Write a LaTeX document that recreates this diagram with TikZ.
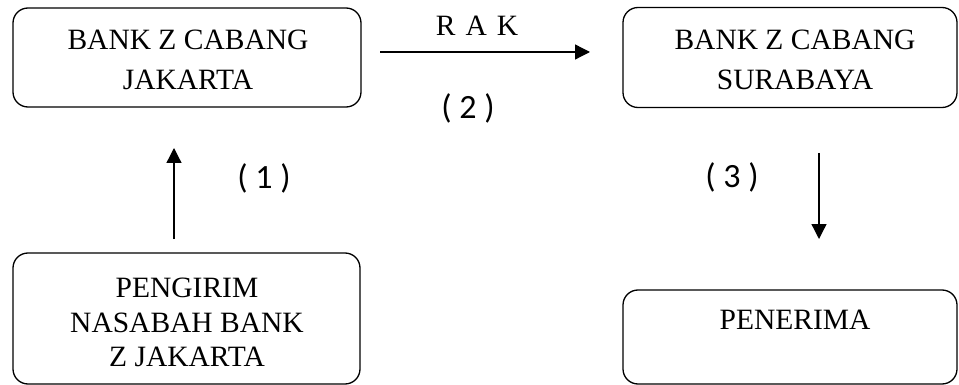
\documentclass[tikz,border=0pt]{standalone}
\usepackage{fontspec}
\setmainfont{Liberation Serif}
\newfontfamily\labelfont{Carlito}
\usetikzlibrary{arrows.meta}
\begin{document}
\begin{tikzpicture}[x=1pt,y=-1pt,
  box/.style={draw,line width=1.3pt,rounded corners=15pt,inner sep=0pt},
  boxtext/.style={align=center,inner sep=0pt,font=\fontsize{29.5}{40}\selectfont},
  numlabel/.style={inner sep=0pt,font=\labelfont\fontsize{34}{40}\selectfont},
  flow/.style={line width=1.3pt,-{Triangle[length=15pt,width=15pt]}}]
\useasboundingbox (0,0) rectangle (959,385);
% boxes
\node[box,minimum width=348pt,minimum height=99pt] (jkt) at (187,57.5) {};
\node[box,minimum width=334pt,minimum height=100pt] (sby) at (790,57.5) {};
\node[box,minimum width=347pt,minimum height=131pt] (pgr) at (186.5,318.5) {};
\node[box,minimum width=334pt,minimum height=94pt] (pnr) at (790,337) {};
% texts
\node[boxtext] (tjkt) at (188,60) {BANK Z CABANG\\JAKARTA};
\node[boxtext] (tsby) at (795,60) {BANK Z CABANG\\SURABAYA};
\node[boxtext,font=\fontsize{29.5}{34.5}\selectfont] (tpgr) at (187,322.5) {PENGIRIM\\NASABAH BANK\\Z JAKARTA};
\node[boxtext] (tpnr) at (795,319.5) {PENERIMA};
% connectors
\coordinate (a1s) at (174,239);
\coordinate (a1e) at (174,148);
\coordinate (a2s) at (380,52);
\coordinate (a2e) at (590,52);
\coordinate (a3s) at (819,153);
\coordinate (a3e) at (819,239);
\draw[flow] (a1s) -- (a1e);
\draw[flow] (a2s) -- (a2e);
\draw[flow] (a3s) -- (a3e);
% labels
\node[boxtext] (rak) at (477,26) {R\hspace{10pt}A\hspace{10pt}K};
\node[numlabel] (n1) at (264,178.5) {( 1 )};
\node[numlabel] (n2) at (468,108.5) {( 2 )};
\node[numlabel] (n3) at (732,177.5) {( 3 )};
\end{tikzpicture}
\end{document}
